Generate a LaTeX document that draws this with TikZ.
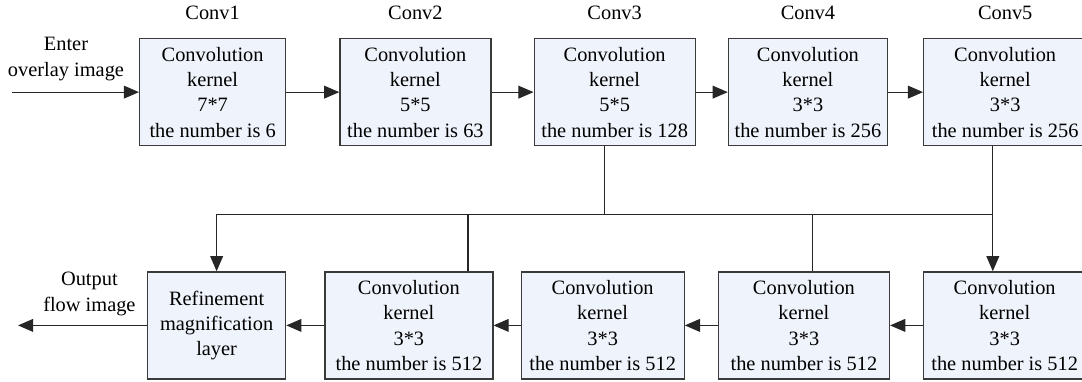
\documentclass[tikz,border=0pt]{standalone}
\usepackage{fontspec}
\setmainfont{Liberation Serif}
\usepackage{xcolor}
\usetikzlibrary{arrows.meta,positioning,calc}
\definecolor{boxfill}{HTML}{EFF3FB}
\definecolor{boxline}{HTML}{3A3A3A}
\definecolor{wire}{HTML}{262626}

\begin{document}
\begin{tikzpicture}[
 font=\fontsize{14.5}{18}\selectfont,
 box/.style={draw=boxline,fill=boxfill,line width=0.9pt,minimum height=26.75mm,align=center,inner xsep=1pt,inner ysep=2pt},
 lbl/.style={inner sep=0pt,align=center},
 wireline/.style={draw=wire,line width=0.9pt},
 arr/.style={wireline,-{Triangle[length=3.8mm,width=3.2mm]}}
]
\useasboundingbox (0,0) rectangle (270.5mm,-95.25mm);
% encoder row
\node[box,anchor=north west,minimum width=36.5mm] (conv1) at (34.75mm,-9.5mm)
 {Convolution\\kernel\\7*7\\the number is 6};
\node[box,minimum width=37.75mm,right=13.25mm of conv1] (conv2)
 {Convolution\\kernel\\5*5\\the number is 63};
\node[box,minimum width=40.25mm,right=10.5mm of conv2] (conv3)
 {Convolution\\kernel\\5*5\\the number is 128};
\node[box,minimum width=39.75mm,right=8mm of conv3] (conv4)
 {Convolution\\kernel\\3*3\\the number is 256};
\node[box,minimum width=40.75mm,right=8.75mm of conv4] (conv5)
 {Convolution\\kernel\\3*3\\the number is 256};
\foreach \i in {1,...,5}
 \node[lbl,above=4.5mm of conv\i] (name\i) {Conv\i};
% decoder row
\node[box,anchor=north west,minimum width=34.5mm] (refine) at ([xshift=2mm,yshift=-31.25mm]conv1.south west)
 {Refinement\\magnification\\layer};
\node[box,minimum width=42mm,right=9.5mm of refine] (dec4)
 {Convolution\\kernel\\3*3\\the number is 512};
\node[box,minimum width=40.75mm,right=6.75mm of dec4] (dec3)
 {Convolution\\kernel\\3*3\\the number is 512};
\node[box,minimum width=42.75mm,right=8.25mm of dec3] (dec2)
 {Convolution\\kernel\\3*3\\the number is 512};
\node[box,minimum width=40.5mm,right=8.25mm of dec2] (dec1)
 {Convolution\\kernel\\3*3\\the number is 512};
% input and output
\node[lbl] (enter) at ([xshift=-18.25mm,yshift=8.25mm]conv1.west) {Enter\\overlay image};
\coordinate (src) at ([xshift=-31.75mm]conv1.west);
\node[lbl] (output) at ([xshift=-14.4mm,yshift=7.9mm]refine.west) {Output\\flow image};
\coordinate (sink) at ([xshift=-32.25mm]refine.west);
\draw[arr] (src) -- (conv1.west);
\draw[arr] (refine.west) -- (sink);
\foreach \a/\b in {conv1/conv2,conv2/conv3,conv3/conv4,conv4/conv5}
 \draw[arr] (\a.east) -- (\b.west);
\foreach \a/\b in {dec1/dec2,dec2/dec3,dec3/dec4,dec4/refine}
 \draw[arr] (\a.west) -- (\b.east);
% skip bus
\coordinate (bus) at ([yshift=-17mm]conv3.south);
\coordinate (c3tap) at ([xshift=-2.6mm]conv3.south);
\coordinate (c5tap) at ([xshift=-3.1mm]conv5.south);
\coordinate (d4tap) at ([xshift=14.75mm]dec4.north);
\coordinate (d2tap) at ([xshift=2.1mm]dec2.north);
\draw[arr] (c5tap) -- (c5tap |- dec1.north);
\draw[arr] (c5tap |- bus) -- (refine.north |- bus) -- (refine.north);
\draw[wireline] (c3tap) -- (c3tap |- bus);
\draw[wireline] (d4tap) -- (d4tap |- bus);
\draw[wireline] (d2tap) -- (d2tap |- bus);
\end{tikzpicture}
\end{document}
